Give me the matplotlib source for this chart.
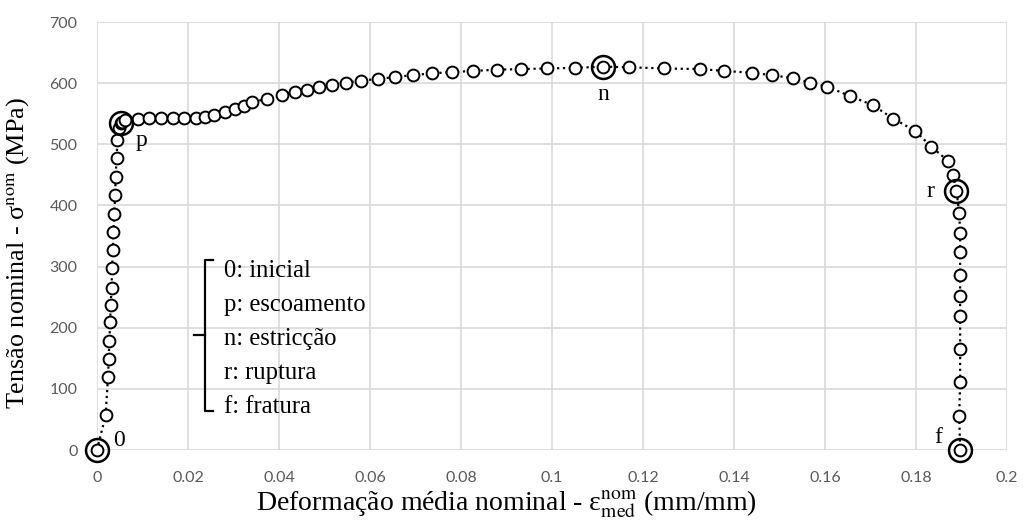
import matplotlib
matplotlib.use("Agg")
import matplotlib.pyplot as plt
from matplotlib.lines import Line2D

plt.rcParams['font.family'] = ['Liberation Serif', 'DejaVu Serif']
plt.rcParams['mathtext.fontset'] = 'stix'

# curva tensao x deformacao nominal
strain = [0.0000, 0.0019, 0.0024, 0.0026, 0.0027, 0.0029, 0.0030, 0.0032, 0.0033,
          0.0035, 0.0036, 0.0038, 0.0040, 0.0041, 0.0043, 0.0045, 0.0049, 0.0052,
          0.0056, 0.0061, 0.0091, 0.0115, 0.0141, 0.0166, 0.0192, 0.0218, 0.0237,
          0.0258, 0.0281, 0.0303, 0.0322, 0.0340, 0.0373, 0.0406, 0.0435, 0.0461,
          0.0488, 0.0517, 0.0548, 0.0580, 0.0618, 0.0655, 0.0694, 0.0736, 0.0780,
          0.0826, 0.0879, 0.0932, 0.0990, 0.1051, 0.1113, 0.1169, 0.1246, 0.1326,
          0.1378, 0.1439, 0.1484, 0.1530, 0.1567, 0.1605, 0.1655, 0.1705, 0.1750,
          0.1798, 0.1834, 0.1870, 0.1881, 0.1889, 0.1895, 0.1897, 0.1897, 0.1897,
          0.1897, 0.1897, 0.1897, 0.1897, 0.1895, 0.1897]
stress = [0, 57, 119, 149, 178, 209, 237, 265, 298,
          327, 357, 386, 417, 447, 478, 507, 527, 535,
          537, 540, 542, 543, 543, 543, 543, 543, 545,
          548, 552, 558, 563, 569, 574, 581, 586, 589,
          593, 597, 601, 604, 607, 610, 613, 616, 618,
          620, 622, 623, 624, 625, 627, 626, 624, 623,
          620, 617, 613, 608, 601, 594, 579, 564, 542,
          522, 496, 473, 449, 423, 388, 355, 324, 286,
          252, 219, 165, 112, 56, 0]

# pontos notaveis: 0, p, n, r, f
key_labels = ['0', 'p', 'n', 'r', 'f']
key_idx = [0, 17, 50, 67, 77]
key_offsets = [(16, 7), (15, -13), (0, -20), (-19, 0), (-16, 9)]

legend_lines = ['0: inicial', 'p: escoamento', 'n: estricção', 'r: ruptura', 'f: fratura']

W, H = 1023, 520
fig = plt.figure(figsize=(W / 100, H / 100), dpi=100)
ax = fig.add_axes([97 / W, 1 - 450 / H, 910 / W, 428 / H])

ax.plot(strain, stress, color='black', linestyle=':', linewidth=1.6, zorder=2, clip_on=False)
ax.plot(strain, stress, linestyle='none', marker='o', markersize=8.5, markerfacecolor='white',
        markeredgecolor='black', markeredgewidth=1.4, zorder=3, clip_on=False)

kx = [strain[i] for i in key_idx]
ky = [stress[i] for i in key_idx]
ax.plot(kx, ky, linestyle='none', marker='o', markersize=16.5, markerfacecolor='none',
        markeredgecolor='black', markeredgewidth=1.8, zorder=4, clip_on=False)
for lab, x, y, off in zip(key_labels, kx, ky, key_offsets):
    ax.annotate(lab, (x, y), xytext=off, textcoords='offset points', ha='center', va='center',
                fontsize=17, zorder=5)

ax.set_xlim(0, 0.2)
ax.set_ylim(0, 700)
ax.set_xticks([i * 0.02 for i in range(11)])
ax.set_xticklabels(['0', '0.02', '0.04', '0.06', '0.08', '0.1', '0.12', '0.14', '0.16', '0.18', '0.2'])
ax.set_yticks(range(0, 701, 100))
ax.grid(True, color='#d9d9d9', linewidth=1.2)
ax.set_axisbelow(True)
for s in ax.spines.values():
    s.set_visible(False)
ax.tick_params(length=0, labelsize=11.5, labelcolor='#595959', pad=14)
for t in ax.get_xticklabels() + ax.get_yticklabels():
    t.set_family('Lato')
ax.tick_params(axis='x', pad=15)

# titulos dos eixos
fig.text(506 / W, 1 - 511 / H, 'Deformação média nominal - ε$^{\\mathrm{nom}}_{\\mathrm{med}}$ (mm/mm)',
         fontsize=20, ha='center', va='baseline')
fig.text(25 / W, 1 - 253 / H, 'Tensão nominal - σ$^{\\mathrm{nom}}$ (MPa)', fontsize=18.8,
         rotation=90, rotation_mode='anchor', ha='center', va='baseline')

# chave da legenda
bx, btop, bbot, bmid = 205, 260, 411, 335
fig.add_artist(Line2D([213 / W, bx / W, bx / W, 213 / W],
                      [1 - btop / H, 1 - btop / H, 1 - bbot / H, 1 - bbot / H],
                      color='black', linewidth=1.6))
fig.add_artist(Line2D([194 / W, bx / W], [1 - bmid / H, 1 - bmid / H], color='black', linewidth=1.6))
for i, txt in enumerate(legend_lines):
    fig.text(224 / W, 1 - (277 + i * 34) / H, txt, fontsize=17.7, va='baseline', ha='left')

fig.savefig('out.png', dpi=100)
